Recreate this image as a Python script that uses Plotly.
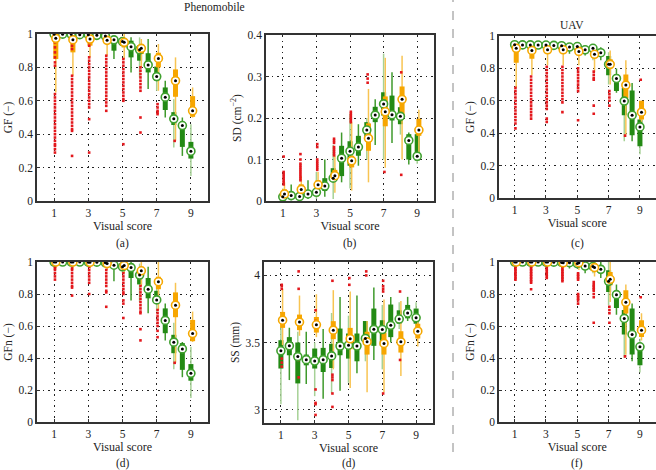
import plotly.graph_objects as go

# ---------------- data ----------------
SCORES = [1, 2, 3, 4, 5, 6, 7, 8, 9]
GREEN_POS = [1, 1.5, 2, 2.5, 3, 3.5, 4, 4.5, 5, 5.5, 6, 6.5, 7, 7.5, 8, 8.5, 9]
ORANGE_POS = [1.1, 2.1, 3.1, 4.1, 5.1, 6.1, 7.1, 8.1, 9.1]
OUTLIER_SHIFT = 0.05
X_TICKS = [1, 3, 5, 7, 9]

# rows: [lower whisker, q1, median, q3, upper whisker]
A_GREEN = [
    [0.985, 0.995, 0.999, 1.0, 1.0], [0.985, 0.995, 0.999, 1.0, 1.0], [0.98, 0.994, 0.998, 1.0, 1.0],
    [0.98, 0.99, 0.996, 1.0, 1.0], [0.975, 0.99, 0.996, 1.0, 1.0], [0.97, 0.985, 0.992, 0.998, 1.0],
    [0.95, 0.98, 0.988, 0.996, 1.0], [0.85, 0.90, 0.965, 0.975, 0.99], [0.92, 0.945, 0.955, 0.965, 0.98],
    [0.77, 0.86, 0.924, 0.96, 0.98], [0.74, 0.84, 0.905, 0.93, 0.98], [0.67, 0.77, 0.815, 0.885, 0.97],
    [0.66, 0.72, 0.745, 0.805, 0.83], [0.50, 0.545, 0.622, 0.68, 0.72], [0.32, 0.455, 0.492, 0.532, 0.61],
    [0.27, 0.324, 0.452, 0.47, 0.50], [0.15, 0.254, 0.298, 0.354, 0.46]]
A_ORANGE = [
    [0.65, 0.85, 0.974, 0.99, 1.0], [0.75, 0.89, 0.966, 0.98, 1.0], [0.86, 0.93, 0.97, 0.99, 1.0],
    [0.87, 0.94, 0.962, 0.985, 1.0], [0.85, 0.92, 0.95, 0.97, 1.0], [0.80, 0.88, 0.914, 0.94, 0.97],
    [0.66, 0.80, 0.854, 0.888, 0.94], [0.36, 0.624, 0.72, 0.788, 0.86], [0.50, 0.504, 0.54, 0.628, 0.68]]
A_OUT = [
    [0.97, 0.95, 0.92, 0.89, 0.86, 0.83, 0.81, 0.64, 0.62, 0.60, 0.58, 0.56, 0.54, 0.52, 0.50, 0.48,
     0.46, 0.44, 0.42, 0.40, 0.38, 0.36, 0.34, 0.33, 0.31, 0.29],
    [0.97, 0.95, 0.93, 0.91, 0.75, 0.73, 0.71, 0.69, 0.67, 0.65, 0.63, 0.61, 0.59, 0.57, 0.55, 0.53,
     0.51, 0.49, 0.47, 0.45, 0.43, 0.42, 0.27],
    [0.97, 0.95, 0.93, 0.86, 0.84, 0.82, 0.80, 0.78, 0.76, 0.74, 0.72, 0.70, 0.68, 0.66, 0.64, 0.62,
     0.60, 0.58, 0.56, 0.49, 0.29],
    [0.97, 0.95, 0.87, 0.85, 0.83, 0.81, 0.79, 0.77, 0.75, 0.73, 0.71, 0.69, 0.67, 0.65, 0.63, 0.61,
     0.59, 0.57, 0.54],
    [0.85, 0.83, 0.81, 0.79, 0.77, 0.75, 0.73, 0.71, 0.69, 0.67, 0.65, 0.63, 0.61, 0.60, 0.34],
    [0.80, 0.78, 0.76, 0.74, 0.72, 0.70, 0.68, 0.66, 0.50, 0.41],
    [0.58, 0.56, 0.54, 0.53, 0.52],
    [0.36],
    []]

B_GREEN = [
    [0.0, 0.005, 0.010, 0.015, 0.03], [0.002, 0.008, 0.013, 0.02, 0.04], [0.001, 0.006, 0.011, 0.018, 0.04],
    [0.005, 0.01, 0.017, 0.025, 0.05], [0.005, 0.015, 0.021, 0.03, 0.07], [0.01, 0.024, 0.036, 0.055, 0.10],
    [0.005, 0.047, 0.055, 0.079, 0.135], [0.045, 0.06, 0.103, 0.133, 0.165], [0.03, 0.085, 0.12, 0.144, 0.21],
    [0.085, 0.109, 0.13, 0.157, 0.185], [0.10, 0.153, 0.171, 0.19, 0.20], [0.135, 0.19, 0.207, 0.227, 0.245],
    [0.10, 0.206, 0.234, 0.262, 0.355], [0.14, 0.194, 0.208, 0.254, 0.31], [0.16, 0.185, 0.204, 0.226, 0.25],
    [0.088, 0.10, 0.146, 0.161, 0.165], [0.09, 0.097, 0.108, 0.161, 0.165]]
B_ORANGE = [
    [0.0, 0.008, 0.017, 0.028, 0.045], [0.005, 0.018, 0.028, 0.04, 0.06], [0.01, 0.028, 0.039, 0.05, 0.07],
    [0.02, 0.05, 0.061, 0.075, 0.11], [0.025, 0.081, 0.097, 0.109, 0.19], [0.045, 0.121, 0.151, 0.187, 0.27],
    [0.08, 0.18, 0.215, 0.252, 0.345], [0.10, 0.204, 0.245, 0.276, 0.35], [0.105, 0.157, 0.171, 0.198, 0.22]]
B_OUT = [
    [0.04, 0.045, 0.05, 0.055, 0.06, 0.065, 0.07, 0.107],
    [0.05, 0.055, 0.06, 0.065, 0.07, 0.075, 0.08, 0.085, 0.09, 0.1, 0.113],
    [0.075, 0.08, 0.085, 0.09, 0.095, 0.1, 0.13, 0.137],
    [0.11, 0.115, 0.12, 0.125, 0.13, 0.14, 0.145, 0.15],
    [0.19, 0.195, 0.2, 0.205, 0.21, 0.215],
    [0.285, 0.295, 0.305],
    [0.07],
    [0.063, 0.31],
    []]

C_GREEN = [
    [0.93, 0.94, 0.946, 0.95, 0.955], [0.93, 0.94, 0.945, 0.95, 0.955], [0.93, 0.94, 0.945, 0.95, 0.955],
    [0.93, 0.938, 0.944, 0.95, 0.955], [0.93, 0.938, 0.944, 0.95, 0.955], [0.925, 0.935, 0.942, 0.948, 0.955],
    [0.92, 0.932, 0.94, 0.946, 0.955], [0.89, 0.915, 0.932, 0.94, 0.95], [0.90, 0.92, 0.935, 0.94, 0.95],
    [0.88, 0.90, 0.915, 0.93, 0.94], [0.85, 0.89, 0.924, 0.93, 0.95], [0.85, 0.87, 0.897, 0.91, 0.93],
    [0.70, 0.757, 0.825, 0.876, 0.90], [0.65, 0.66, 0.738, 0.763, 0.80], [0.35, 0.511, 0.598, 0.68, 0.71],
    [0.35, 0.388, 0.511, 0.664, 0.71], [0.27, 0.32, 0.439, 0.485, 0.50]]
C_ORANGE = [
    [0.68, 0.835, 0.924, 0.935, 0.95], [0.76, 0.86, 0.911, 0.93, 0.95], [0.82, 0.89, 0.915, 0.93, 0.95],
    [0.82, 0.90, 0.915, 0.93, 0.95], [0.82, 0.88, 0.905, 0.93, 0.95], [0.78, 0.87, 0.887, 0.905, 0.93],
    [0.70, 0.80, 0.825, 0.856, 0.91], [0.39, 0.618, 0.697, 0.763, 0.85], [0.47, 0.485, 0.53, 0.60, 0.60]]
C_OUT = [
    [0.68, 0.66, 0.64, 0.62, 0.60, 0.58, 0.56, 0.54, 0.52, 0.50, 0.48, 0.46, 0.43],
    [0.75, 0.73, 0.71, 0.69, 0.67, 0.65, 0.63, 0.61, 0.59, 0.57, 0.55, 0.53, 0.51, 0.49],
    [0.81, 0.79, 0.77, 0.75, 0.73, 0.71, 0.69, 0.67, 0.65, 0.63, 0.61, 0.59, 0.57, 0.55, 0.49, 0.47],
    [0.81, 0.79, 0.77, 0.75, 0.73, 0.71, 0.69, 0.67, 0.65, 0.63, 0.61, 0.59, 0.53],
    [0.80, 0.78, 0.76, 0.74, 0.72, 0.70, 0.68, 0.66, 0.48],
    [0.78, 0.76, 0.74, 0.73, 0.57, 0.52],
    [0.66, 0.64, 0.62, 0.60, 0.57],
    [0.385],
    [0.73]]

D_GREEN = [
    [0.99, 0.998, 1.0, 1.0, 1.0], [0.99, 0.998, 1.0, 1.0, 1.0], [0.99, 0.997, 1.0, 1.0, 1.0],
    [0.99, 0.997, 1.0, 1.0, 1.0], [0.99, 0.996, 0.999, 1.0, 1.0], [0.985, 0.995, 0.999, 1.0, 1.0],
    [0.98, 0.99, 0.995, 1.0, 1.0], [0.88, 0.96, 0.98, 0.99, 1.0], [0.93, 0.96, 0.97, 0.985, 1.0],
    [0.76, 0.90, 0.965, 0.99, 1.0], [0.75, 0.86, 0.918, 0.95, 0.99], [0.68, 0.773, 0.83, 0.90, 0.97],
    [0.69, 0.742, 0.763, 0.82, 0.88], [0.51, 0.555, 0.635, 0.71, 0.74], [0.33, 0.43, 0.499, 0.545, 0.62],
    [0.28, 0.326, 0.457, 0.493, 0.50], [0.15, 0.258, 0.304, 0.362, 0.47]]
D_ORANGE = [
    [0.96, 0.985, 1.0, 1.0, 1.0], [0.96, 0.985, 1.0, 1.0, 1.0], [0.96, 0.98, 0.998, 1.0, 1.0],
    [0.95, 0.975, 0.99, 1.0, 1.0], [0.93, 0.96, 0.978, 0.99, 1.0], [0.85, 0.92, 0.945, 0.97, 1.0],
    [0.70, 0.83, 0.877, 0.908, 1.0], [0.37, 0.655, 0.73, 0.81, 0.87], [0.50, 0.505, 0.553, 0.638, 0.69]]
D_OUT = [
    [0.98, 0.97, 0.96, 0.95, 0.93, 0.91, 0.89],
    [0.96, 0.95, 0.93, 0.91, 0.89, 0.87, 0.85, 0.84, 0.79],
    [0.97, 0.95, 0.93, 0.91, 0.89, 0.87, 0.80],
    [0.95, 0.93, 0.91, 0.89, 0.87, 0.85, 0.82, 0.81, 0.72],
    [0.93, 0.91, 0.89, 0.87, 0.85, 0.83, 0.81, 0.80, 0.76, 0.74, 0.65],
    [0.85, 0.83, 0.81, 0.79, 0.77, 0.75, 0.73, 0.71, 0.69, 0.68, 0.58, 0.51],
    [0.70, 0.68, 0.66, 0.64, 0.62, 0.60, 0.57, 0.53],
    [0.37],
    []]

E_GREEN = [
    [3.04, 3.306, 3.438, 3.517, 3.62], [3.22, 3.405, 3.475, 3.54, 3.61], [2.92, 3.195, 3.395, 3.50, 3.58],
    [3.19, 3.33, 3.372, 3.41, 3.58], [3.10, 3.306, 3.362, 3.455, 3.50], [3.08, 3.28, 3.372, 3.46, 3.60],
    [3.12, 3.31, 3.40, 3.49, 3.72], [3.14, 3.405, 3.474, 3.604, 3.84], [3.20, 3.38, 3.48, 3.567, 3.70],
    [3.27, 3.36, 3.474, 3.567, 3.85], [3.36, 3.485, 3.53, 3.66, 3.66], [3.37, 3.475, 3.598, 3.753, 3.91],
    [3.30, 3.475, 3.597, 3.666, 3.78], [3.50, 3.54, 3.628, 3.783, 3.84], [3.60, 3.64, 3.675, 3.74, 3.80],
    [3.66, 3.68, 3.72, 3.78, 3.84], [3.60, 3.64, 3.684, 3.753, 3.80]]
E_ORANGE = [
    [3.48, 3.609, 3.666, 3.728, 3.90], [3.55, 3.592, 3.652, 3.708, 3.85], [3.54, 3.574, 3.632, 3.69, 3.86],
    [3.30, 3.525, 3.592, 3.659, 3.89], [3.16, 3.45, 3.528, 3.609, 3.88], [3.13, 3.41, 3.505, 3.58, 3.66],
    [3.13, 3.41, 3.493, 3.574, 3.82], [3.25, 3.425, 3.505, 3.584, 3.81], [3.47, 3.53, 3.584, 3.64, 3.70]]
E_OUT = [
    [3.93, 3.92, 3.90, 3.38, 3.35, 3.32],
    [4.03, 3.90, 3.40, 3.37, 3.24],
    [3.74, 3.66, 3.15, 3.05, 3.04, 2.96],
    [3.96, 3.26, 3.24, 3.22, 3.12, 3.02],
    [3.98, 3.93],
    [4.03, 4.00],
    [3.96, 3.92, 3.90, 3.88, 3.12],
    [3.88, 3.37],
    []]

F_GREEN = [
    [0.99, 0.998, 1.0, 1.0, 1.0], [0.99, 0.998, 1.0, 1.0, 1.0], [0.99, 0.997, 1.0, 1.0, 1.0],
    [0.99, 0.997, 1.0, 1.0, 1.0], [0.99, 0.996, 1.0, 1.0, 1.0], [0.985, 0.995, 0.999, 1.0, 1.0],
    [0.98, 0.99, 0.997, 1.0, 1.0], [0.96, 0.985, 0.996, 1.0, 1.0], [0.96, 0.98, 0.99, 1.0, 1.0],
    [0.93, 0.96, 0.975, 0.99, 1.0], [0.93, 0.955, 0.972, 0.985, 1.0], [0.90, 0.93, 0.954, 0.98, 1.0],
    [0.73, 0.813, 0.879, 0.948, 1.0], [0.67, 0.713, 0.796, 0.813, 0.86], [0.40, 0.547, 0.647, 0.70, 0.76],
    [0.38, 0.422, 0.547, 0.709, 0.74], [0.31, 0.355, 0.47, 0.49, 0.52]]
F_ORANGE = [
    [0.98, 0.99, 1.0, 1.0, 1.0], [0.98, 0.99, 1.0, 1.0, 1.0], [0.98, 0.99, 1.0, 1.0, 1.0],
    [0.97, 0.985, 0.995, 1.0, 1.0], [0.95, 0.98, 0.996, 1.0, 1.0], [0.91, 0.95, 0.965, 0.98, 1.0],
    [0.75, 0.855, 0.892, 0.938, 1.0], [0.42, 0.678, 0.748, 0.823, 0.86], [0.51, 0.532, 0.574, 0.636, 0.68]]
F_OUT = [
    [0.98, 0.97, 0.96, 0.95, 0.94, 0.93, 0.92, 0.91, 0.90, 0.89],
    [0.98, 0.97, 0.96, 0.95, 0.94, 0.93, 0.92, 0.91, 0.90, 0.89, 0.88, 0.87, 0.83],
    [0.98, 0.97, 0.96, 0.95, 0.94, 0.93, 0.92, 0.91, 0.90],
    [0.98, 0.97, 0.96, 0.95, 0.94, 0.93, 0.92, 0.91, 0.90, 0.89, 0.88],
    [0.93, 0.92, 0.91, 0.90, 0.89, 0.80, 0.79, 0.78, 0.77, 0.76, 0.74],
    [0.875, 0.86, 0.85, 0.84, 0.83, 0.82, 0.80, 0.78, 0.62],
    [0.72, 0.70, 0.68, 0.62],
    [0.41],
    [0.78]]

Y_TITLES = ["GF (−)", "SD (cm<sup>−2</sup>)", "GF (−)", "GFn (−)", "SS (mm)", "GFn (−)"]
PANEL_LABELS = ["(a)", "(b)", "(c)", "(d)", "(d)", "(f)"]
X_TITLE = "Visual score"

# ---------------- style ----------------
FONT = "Liberation Serif"
G_BOX = "#238a14"
G_WHISK_DARK = "#3f9a2c"
G_WHISK_LIGHT = "#a6d196"
G_RING = "#3fa02e"
O_BOX = "#f7a600"
O_WHISK = "#f8c452"
O_RING = "#f5a800"
RED = "#e3181d"
TXT = "#222"

panels = [
    (A_GREEN, A_ORANGE, A_OUT, [0, 1], 0.2),
    (B_GREEN, B_ORANGE, B_OUT, [0, 0.4], 0.1),
    (C_GREEN, C_ORANGE, C_OUT, [0, 1], 0.2),
    (D_GREEN, D_ORANGE, D_OUT, [0, 1], 0.2),
    (E_GREEN, E_ORANGE, E_OUT, [2.9, 4.1], 0.5),
    (F_GREEN, F_ORANGE, F_OUT, [0, 1], 0.2),
]
W, H = 656, 470
px_boxes = [  # left, right, top, bottom in pixels
    (37, 208, 34, 201), (266, 434, 35, 201), (499, 655.6, 36, 198),
    (37, 208, 262, 422), (264, 433, 262, 423), (499, 655.6, 262, 422)]


def segs(xs, lo, hi):
    X, Y = [], []
    for x, a, b in zip(xs, lo, hi):
        X += [x, x, None]
        Y += [a, b, None]
    return X, Y


fig = go.Figure()
layout = {}
for k, (green, orange, outs, yr, dt) in enumerate(panels):
    n = "" if k == 0 else str(k + 1)
    xa, ya = "x" + n, "y" + n
    col = lambda rows, j: [r[j] for r in rows]
    gi = [i for i, p in enumerate(GREEN_POS) if float(p).is_integer()]
    gh = [i for i, p in enumerate(GREEN_POS) if not float(p).is_integer()]
    for idxs, c in ((gi, G_WHISK_LIGHT), (gh, G_WHISK_DARK)):
        X, Y = segs([GREEN_POS[i] for i in idxs], [green[i][0] for i in idxs], [green[i][4] for i in idxs])
        fig.add_trace(go.Scatter(x=X, y=Y, mode="lines", line=dict(color=c, width=1.5),
                                 xaxis=xa, yaxis=ya, hoverinfo="skip"))
    X, Y = segs(GREEN_POS, col(green, 1), col(green, 3))
    fig.add_trace(go.Scatter(x=X, y=Y, mode="lines", line=dict(color=G_BOX, width=5),
                             xaxis=xa, yaxis=ya, hoverinfo="skip"))
    X, Y = segs(ORANGE_POS, col(orange, 0), col(orange, 4))
    fig.add_trace(go.Scatter(x=X, y=Y, mode="lines", line=dict(color=O_WHISK, width=1.5),
                             xaxis=xa, yaxis=ya, hoverinfo="skip"))
    X, Y = segs(ORANGE_POS, col(orange, 1), col(orange, 3))
    fig.add_trace(go.Scatter(x=X, y=Y, mode="lines", line=dict(color=O_BOX, width=5),
                             xaxis=xa, yaxis=ya, hoverinfo="skip"))
    ox, oy = [], []
    for s, vals in zip(SCORES, outs):
        ox += [s + OUTLIER_SHIFT] * len(vals)
        oy += vals
    fig.add_trace(go.Scatter(x=ox, y=oy, mode="markers",
                             marker=dict(symbol="square", size=2.6, color=RED),
                             xaxis=xa, yaxis=ya, hoverinfo="skip"))
    fig.add_trace(go.Scatter(x=GREEN_POS, y=col(green, 2), mode="markers",
                             marker=dict(symbol="circle", size=8, color="white",
                                         line=dict(color=G_RING, width=1.6)),
                             xaxis=xa, yaxis=ya, hoverinfo="skip"))
    fig.add_trace(go.Scatter(x=ORANGE_POS, y=col(orange, 2), mode="markers",
                             marker=dict(symbol="circle", size=8, color="white",
                                         line=dict(color=O_RING, width=1.6)),
                             xaxis=xa, yaxis=ya, hoverinfo="skip"))
    fig.add_trace(go.Scatter(x=GREEN_POS + ORANGE_POS, y=col(green, 2) + col(orange, 2), mode="markers",
                             marker=dict(symbol="circle", size=3, color="black"),
                             xaxis=xa, yaxis=ya, hoverinfo="skip"))

    l, r, t, b = px_boxes[k]
    common = dict(showline=True, mirror=True, linecolor="#333", linewidth=1.5,
                  showgrid=True, gridcolor="#222", griddash="1.5px,4px", gridwidth=1.3,
                  zeroline=False, ticks="inside", ticklen=3, tickcolor="#333", automargin=False,
                  tickfont=dict(family=FONT, size=11.5, color=TXT), layer="below traces")
    layout["xaxis" + n] = dict(common, domain=[l / W, r / W], range=[0, 10], tickvals=X_TICKS,
                               anchor=ya, title=dict(text=X_TITLE, font=dict(family=FONT, size=12, color=TXT),
                                                     standoff=0))
    layout["yaxis" + n] = dict(common, domain=[1 - b / H, 1 - t / H], range=yr, dtick=dt,
                               anchor=xa, title=dict(text=Y_TITLES[k], font=dict(family=FONT, size=11.5, color=TXT),
                                                     standoff=4))

annotations = []
for k, (l, r, t, b) in enumerate(px_boxes):
    ly = 243 if k < 3 else 463
    annotations.append(dict(text=PANEL_LABELS[k], x=(l + r) / 2 / W, y=1 - ly / H, xref="paper", yref="paper",
                            xanchor="center", yanchor="middle",
                            showarrow=False, font=dict(family=FONT, size=11.5, color=TXT)))
annotations.append(dict(text="Phenomobile", x=214 / W, y=1 - 7 / H, xref="paper", yref="paper",
                        xanchor="center", yanchor="middle",
                        showarrow=False, font=dict(family=FONT, size=11.5, color=TXT)))
annotations.append(dict(text="UAV", x=572 / W, y=1 - 25 / H, xref="paper", yref="paper",
                        xanchor="center", yanchor="middle",
                        showarrow=False, font=dict(family=FONT, size=11.5, color=TXT)))

fig.update_layout(**layout)
fig.update_layout(
    width=W, height=H, margin=dict(l=0, r=0, t=0, b=0, autoexpand=False),
    paper_bgcolor="white", plot_bgcolor="white", showlegend=False,
    annotations=annotations,
    shapes=[dict(type="line", xref="paper", yref="paper", x0=453 / W, x1=453 / W, y0=1 - 452 / H, y1=1,
                 line=dict(color="#888", width=1, dash="dash"))],
)
fig.write_html("out.html", config={"displayModeBar": False},
               post_script="document.body.style.margin='0px';document.body.style.overflow='hidden';")
